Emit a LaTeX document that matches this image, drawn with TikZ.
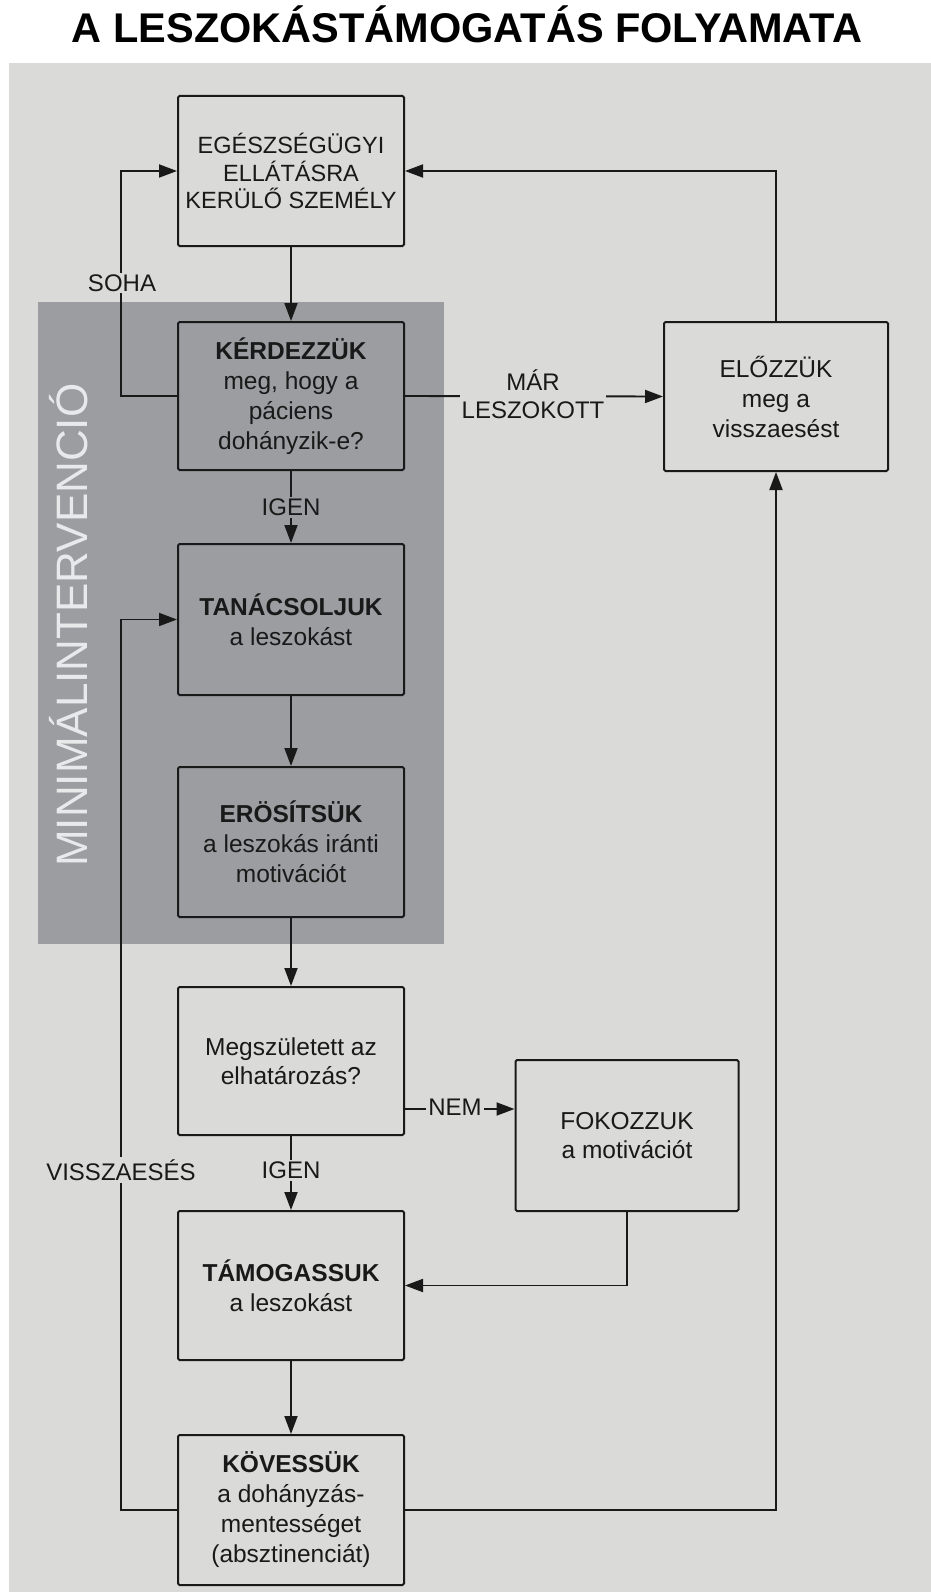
\documentclass[tikz,border=0pt]{standalone}
\usepackage{fontspec}
\setmainfont{Liberation Sans}
\usetikzlibrary{arrows.meta,calc}
\definecolor{panelbg}{RGB}{218,219,217}
\definecolor{mipanel}{RGB}{155,157,160}
\definecolor{mitext}{RGB}{232,233,234}
\definecolor{ink}{RGB}{25,25,25}
\begin{document}
\begin{tikzpicture}[x=1pt,y=-1pt,
  stepbox/.style={draw=ink, line width=2pt, rounded corners=1.5pt,
    minimum width=226pt, minimum height=149pt, inner sep=0pt,
    align=center, text=ink, font=\fontsize{24.5}{30}\selectfont},
  flow/.style={draw=ink, line width=1.9pt, -{Triangle[length=18pt,width=13pt]}},
  tag/.style={fill=panelbg, text=ink, inner sep=2pt,
    font=\fontsize{24}{28}\selectfont, align=center}]

% page and background panels
\useasboundingbox (0,0) rectangle (931,1592);
\fill[white] (0,0) rectangle (931,1592);
\fill[panelbg] (9,63) rectangle (931,1592);
\fill[mipanel] (38,302) rectangle (443.5,944);

% title
\node[anchor=base, font=\fontsize{41.5}{48}\selectfont\bfseries, text=black, inner sep=0pt]
  (title) at (467,43) {A LESZOKÁSTÁMOGATÁS FOLYAMATA};

% vertical caption of the minimal intervention block
\node[rotate=90, anchor=base west, inner sep=0pt, text=mitext,
  font=\fontsize{44}{50}\selectfont] (mini) at (87,867) {MINIMÁLINTERVENCIÓ};

% process steps
\node[stepbox, fill=panelbg, minimum height=150pt, font=\fontsize{23.5}{27.5}\selectfont]
  (top) at (291,171) {EGÉSZSÉGÜGYI\\ELLÁTÁSRA\\KERÜLŐ SZEMÉLY};
\node[stepbox, fill=mipanel, minimum height=148pt] (ask) at (291,396)
  {{\bfseries KÉRDEZZÜK}\\meg, hogy a\\páciens\\dohányzik-e?};
\node[stepbox, fill=mipanel, minimum height=151pt] (advise) at (291,619.5)
  {{\bfseries TANÁCSOLJUK}\\a leszokást};
\node[stepbox, fill=mipanel, minimum height=150pt] (motiv) at (291,842)
  {{\bfseries ERÖSÍTSÜK}\\a leszokás iránti\\motivációt};
\node[stepbox, fill=panelbg, minimum height=148pt, font=\fontsize{24.5}{28.5}\selectfont]
  (decide) at (291,1061) {Megszületett az\\elhatározás?};
\node[stepbox, fill=panelbg, minimum width=223pt, minimum height=151pt,
  font=\fontsize{24.5}{29}\selectfont] (raise) at (627,1135.5) {FOKOZZUK\\a motivációt};
\node[stepbox, fill=panelbg] (support) at (291,1285.5)
  {{\bfseries TÁMOGASSUK}\\a leszokást};
\node[stepbox, fill=panelbg, minimum height=150pt] (follow) at (291,1510)
  {{\bfseries KÖVESSÜK}\\a dohányzás-\\mentességet\\(absztinenciát)};
\node[stepbox, fill=panelbg, minimum width=224pt] (prevent) at (776,396.5)
  {ELŐZZÜK\\meg a\\visszaesést};

% connectors
\draw[flow] (top) -- (ask);
\draw[flow] (ask.west) -- ++(-56,0) |- (top.west);
\draw[flow] (ask.east) -- (prevent.west);
\draw[flow] (prevent.north) |- (top.east);
\draw[flow] (ask) -- (advise);
\draw[flow] (advise) -- (motiv);
\draw[flow] (motiv) -- (decide);
\coordinate (nemstart) at ($(decide.south east)+(0,-27)$);
\draw[flow] (nemstart) -- (nemstart -| raise.west);
\draw[flow] (decide) -- (support);
\draw[flow] (raise.south) |- (support.east);
\draw[flow] (support) -- (follow);
\draw[flow] (follow.west) -- ++(-56,0) |- (advise.west);
\draw[flow] (follow.east) -| (prevent.south);

% connector labels
\node[tag] (soha) at (122,283) {SOHA};
\node[tag] (mar) at (533,394) {MÁR\\LESZOKOTT};
\node[tag, fill=mipanel] (igen1) at (291,507) {IGEN};
\node[tag] (nem) at (455,1107) {NEM};
\node[tag] (igen2) at (291,1170) {IGEN};
\node[tag] (vissza) at (121,1170) {VISSZAESÉS};
\end{tikzpicture}
\end{document}
